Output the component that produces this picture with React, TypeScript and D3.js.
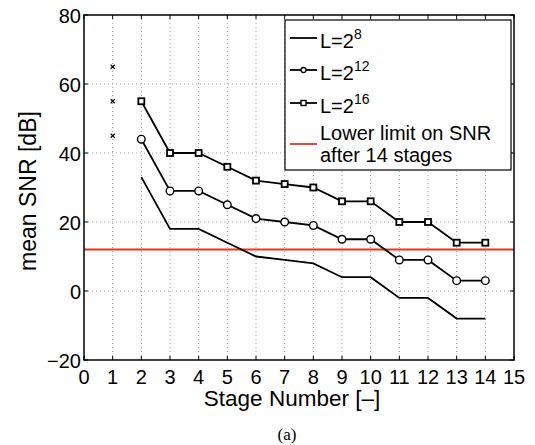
import React from 'react';
import * as d3 from 'd3';

const stages = [2, 3, 4, 5, 6, 7, 8, 9, 10, 11, 12, 13, 14];
const snrL8 = [33, 18, 18, 14, 10, 9, 8, 4, 4, -2, -2, -8, -8];
const snrL12 = [44, 29, 29, 25, 21, 20, 19, 15, 15, 9, 9, 3, 3];
const snrL16 = [55, 40, 40, 36, 32, 31, 30, 26, 26, 20, 20, 14, 14];
const stageOneMarks = [65, 55, 45];
const lowerLimit = 12;
const xTicks = d3.range(0, 16);
const yTicks = [-20, 0, 20, 40, 60, 80];

const W = 535;
const H = 445;
const m = { left: 84, top: 15, right: 514, bottom: 360 };
const font = 'Liberation Sans, Arial, sans-serif';

export default function App() {
  const x = d3.scaleLinear().domain([0, 15]).range([m.left, m.right]);
  const y = d3.scaleLinear().domain([-20, 80]).range([m.bottom, m.top]);
  const line = d3.line<number>().x((_, i) => x(stages[i])).y(d => y(d));

  // legend rows
  const lx = 285, ly = 20, lw = 226, lh = 150;
  const rows = [
    { y: 38, label: '8', marker: null },
    { y: 70, label: '12', marker: 'circle' },
    { y: 103, label: '16', marker: 'square' },
  ];

  return (
    <svg width={W} height={H} style={{ position: 'absolute', left: 0, top: 0 }}>
      <rect width={W} height={H} fill="#fff" />
      {/* grid */}
      {xTicks.slice(1, -1).map(t => (
        <line key={'gx' + t} x1={x(t)} x2={x(t)} y1={m.top} y2={m.bottom}
          stroke="#888" strokeWidth={0.8} strokeDasharray="1,3" />
      ))}
      {yTicks.slice(1, -1).map(t => (
        <line key={'gy' + t} x1={m.left} x2={m.right} y1={y(t)} y2={y(t)}
          stroke="#888" strokeWidth={0.8} strokeDasharray="1,3" />
      ))}
      {/* ticks inside */}
      {xTicks.map(t => (
        <g key={'tx' + t}>
          <line x1={x(t)} x2={x(t)} y1={m.bottom} y2={m.bottom - 4} stroke="#000" />
          <line x1={x(t)} x2={x(t)} y1={m.top} y2={m.top + 4} stroke="#000" />
          <text x={x(t)} y={m.bottom + 24} textAnchor="middle" fontFamily={font} fontSize={20}>{t}</text>
        </g>
      ))}
      {yTicks.map(t => (
        <g key={'ty' + t}>
          <line x1={m.left} x2={m.left + 4} y1={y(t)} y2={y(t)} stroke="#000" />
          <line x1={m.right} x2={m.right - 4} y1={y(t)} y2={y(t)} stroke="#000" />
          <text x={m.left - 3} y={y(t) + 8} textAnchor="end" fontFamily={font} fontSize={20}>
            {t < 0 ? '\u2212' + Math.abs(t) : t}
          </text>
        </g>
      ))}
      {/* red limit */}
      <line x1={m.left} x2={m.right} y1={y(lowerLimit)} y2={y(lowerLimit)} stroke="#e8351c" strokeWidth={2} />
      {/* series */}
      <path d={line(snrL8) || ''} fill="none" stroke="#000" strokeWidth={1.8} />
      <path d={line(snrL12) || ''} fill="none" stroke="#000" strokeWidth={1.8} />
      <path d={line(snrL16) || ''} fill="none" stroke="#000" strokeWidth={1.8} />
      {snrL12.map((v, i) => (
        <circle key={'c' + i} cx={x(stages[i])} cy={y(v)} r={3.8} fill="#fff" stroke="#000" strokeWidth={1.4} />
      ))}
      {snrL16.map((v, i) => (
        <rect key={'s' + i} x={x(stages[i]) - 3} y={y(v) - 3} width={6} height={6} fill="#fff" stroke="#000" strokeWidth={1.8} />
      ))}
      {stageOneMarks.map(v => (
        <path key={'x' + v} d={`M${x(1) - 2},${y(v) - 2}L${x(1) + 2},${y(v) + 2}M${x(1) - 2},${y(v) + 2}L${x(1) + 2},${y(v) - 2}`}
          stroke="#000" strokeWidth={1.1} />
      ))}
      {/* frame */}
      <rect x={m.left} y={m.top} width={m.right - m.left} height={m.bottom - m.top} fill="none" stroke="#000" strokeWidth={1.5} />
      {/* legend */}
      <rect x={lx} y={ly} width={lw} height={lh} fill="#fff" stroke="#000" strokeWidth={1.2} />
      {rows.map(r => (
        <g key={r.label}>
          <line x1={290} x2={317} y1={r.y} y2={r.y} stroke="#000" strokeWidth={1.8} />
          {r.marker === 'circle' && <circle cx={303.5} cy={r.y} r={2.5} fill="#fff" stroke="#000" strokeWidth={1.3} />}
          {r.marker === 'square' && <rect x={301} y={r.y - 2.5} width={5} height={5} fill="#fff" stroke="#000" strokeWidth={1.4} />}
          <text x={320} y={r.y + 10} fontFamily={font} fontSize={20}>
            L=2<tspan dy={-9} fontSize={14}>{r.label}</tspan>
          </text>
        </g>
      ))}
      <line x1={290} x2={317} y1={144} y2={144} stroke="#e8351c" strokeWidth={1.8} />
      <text x={320} y={140} fontFamily={font} fontSize={20}>Lower limit on SNR</text>
      <text x={320} y={162} fontFamily={font} fontSize={20}>after 14 stages</text>
      {/* axis labels */}
      <text x={292} y={406} textAnchor="middle" fontFamily={font} fontSize={22.5}>Stage Number [–]</text>
      <text transform={`translate(36,191) rotate(-90)`} textAnchor="middle" fontFamily={font} fontSize={23}>mean SNR [dB]</text>
      <text x={287} y={440} textAnchor="middle" fontFamily="Liberation Serif, Times New Roman, serif" fontSize={17}>(a)</text>
    </svg>
  );
}
